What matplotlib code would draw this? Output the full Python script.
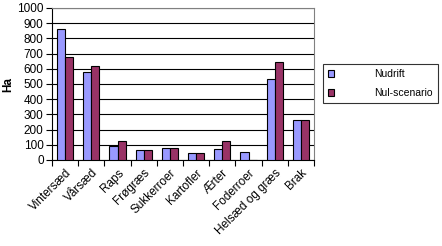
import matplotlib
matplotlib.use("Agg")
import matplotlib.pyplot as plt
import numpy as np

categories = ["Vintersæd", "Vårsæd", "Raps", "Frøgræs", "Sukkerroer", "Kartofler",
              "Ærter", "Foderroer", "Helsæd og græs", "Brak"]
nudrift = [864, 577, 92, 64, 79, 44, 70, 50, 531, 261]
nul_scenario = [680, 616, 123, 64, 79, 44, 123, 0, 645, 261]
yticks = list(range(0, 1001, 100))

plt.rcParams['font.family'] = ['Liberation Sans', 'DejaVu Sans']
fig = plt.figure(figsize=(4.42, 2.46), dpi=100)
ax = fig.add_axes([52/442, 1-160/246, (314-52)/442, (160-8)/246])

x = np.arange(len(categories))
w = 0.31
ax.bar(x - w/2, nudrift, w, color="#9999FF", edgecolor="black", linewidth=0.8, label="Nudrift", zorder=3)
ax.bar(x + w/2, nul_scenario, w, color="#993366", edgecolor="black", linewidth=0.8, label="Nul-scenario", zorder=3)

ax.set_xlim(-0.5, len(categories) - 0.5)
ax.set_ylim(0, 1000)
ax.set_yticks(yticks)
ax.set_yticklabels([str(v) for v in yticks], fontsize=8.5)
ax.yaxis.grid(True, color="black", linewidth=0.8, zorder=0)
ax.set_xticks(np.arange(len(categories) + 1) - 0.5, minor=False)
ax.set_xticklabels([])
ax.set_xticks(x, minor=True)
ax.set_xticklabels(categories, minor=True, rotation=45, ha="right", rotation_mode="anchor", fontsize=8.5)
ax.tick_params(axis="x", which="minor", length=0, pad=5)
ax.tick_params(axis="x", which="major", length=4, direction="out")
ax.tick_params(axis="y", length=4, direction="out", pad=2)
for s in ["top", "right"]:
    ax.spines[s].set_color("#808080")
ax.spines["left"].set_linewidth(0.8)
ax.spines["bottom"].set_linewidth(0.8)
ax.set_ylabel("Ha", fontsize=8.5, fontweight="bold")
ax.yaxis.set_label_coords(-0.145, 0.5)

leg = fig.legend(loc="upper left", bbox_to_anchor=(323/442, 1-64/246), fontsize=7.5,
                 frameon=True, fancybox=False, edgecolor="black", handlelength=0.6,
                 handleheight=0.6, borderpad=0.5, labelspacing=0.85, handletextpad=3.8,
                 borderaxespad=0)
leg.get_frame().set_linewidth(0.8)

fig.savefig("out.png", dpi=100)
